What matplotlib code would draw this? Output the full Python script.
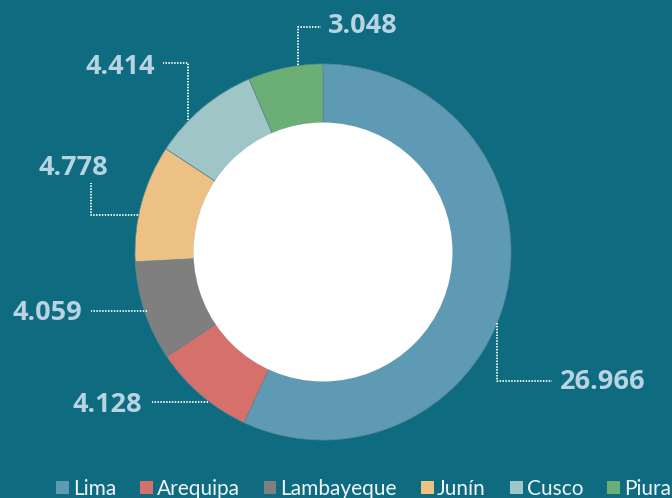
import matplotlib
matplotlib.use("Agg")
import matplotlib.pyplot as plt
from matplotlib.patches import Circle, Patch

# ---- data ----
categories = ["Lima", "Arequipa", "Lambayeque", "Junín", "Cusco", "Piura"]
values = [26.966, 4.128, 4.059, 4.778, 4.414, 3.048]
value_labels = ["26.966", "4.128", "4.059", "4.778", "4.414", "3.048"]
colors = ["#5F9AB4", "#D6706B", "#7F7F7F", "#EDC083", "#9FC6C6", "#6BAF77"]

BG = "#0F6C80"
TXT = "#B8D3E1"
W, H = 672, 498

fig = plt.figure(figsize=(W / 100, H / 100), dpi=100, facecolor=BG)
ax = fig.add_axes([0, 0, 1, 1])
ax.set_facecolor(BG)

def Y(y):
    return H - y

cx, cy, R, r_in = 323, Y(252), 188, 129
wedges, _ = ax.pie(values, colors=colors, startangle=90, counterclock=False,
                   center=(cx, cy), radius=R,
                   wedgeprops=dict(width=R - r_in, edgecolor="#5d8690", linewidth=0.5))
ax.add_patch(Circle((cx, cy), r_in + 0.5, facecolor="white", edgecolor="none", zorder=3))

# label layout: (x, baseline y, ha, leader path) in image pixel coords
layout = [
    (560, 389, "left", [(497, 323), (497, 381), (552, 381)]),
    (142, 412, "right", [(208, 402), (152, 402)]),
    (82, 320, "right", [(147, 311), (91, 311)]),
    (108, 175, "right", [(138, 215), (91, 215), (91, 183)]),
    (155, 74, "right", [(188, 120), (188, 63), (163, 63)]),
    (328, 33, "left", [(298, 65), (298, 27), (321, 27)]),
]
for lab, (tx, ty, ha, path) in zip(value_labels, layout):
    xs = [p[0] for p in path]
    ys = [Y(p[1]) for p in path]
    ax.plot(xs, ys, color="white", lw=1.3, linestyle=(0, (0.8, 0.8)),
            solid_capstyle="butt", zorder=4)
    ax.text(tx, Y(ty), lab, ha=ha, va="baseline", color=TXT,
            fontsize=19.5, fontweight="bold", family="Open Sans", zorder=5)

ax.set_xlim(0, W)
ax.set_ylim(0, H)
ax.set_aspect("equal")
ax.axis("off")

handles = [Patch(facecolor=c, edgecolor="none") for c in colors]
leg = ax.legend(handles, categories, loc="lower left", ncol=6,
                bbox_to_anchor=(56 / W, -1 / H), frameon=False,
                prop=dict(family="Lato", size=15),
                handlelength=0.62, handleheight=0.62, handletextpad=0.18,
                columnspacing=1.15, borderpad=0, borderaxespad=0)
for t in leg.get_texts():
    t.set_color("#EEF4F7")

fig.savefig("out.png", dpi=100, facecolor=BG)
